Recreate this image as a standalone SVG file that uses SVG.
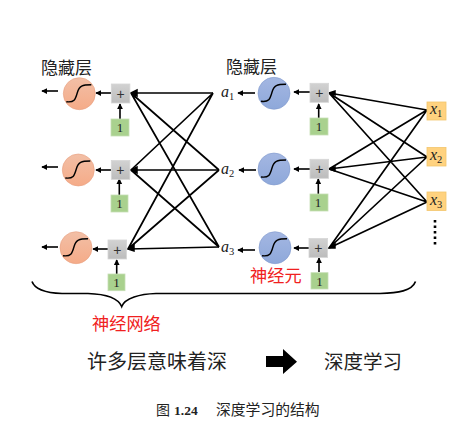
<svg xmlns="http://www.w3.org/2000/svg" width="476" height="433" viewBox="0 0 476 433">
<style>
.cjk{font-family:"Noto Sans CJK SC","Liberation Serif",serif}
.hd{font-size:17px;fill:#222}
.red{font-size:17.200px;fill:#f02020}
.m{font-family:"Liberation Serif",serif;font-style:italic;font-size:16px;fill:#222}
.s{font-family:"Liberation Serif",serif;font-size:10.500px;fill:#222}
.n{font-family:"Liberation Serif",serif;font-size:13px;fill:#222;text-anchor:middle}
.p{font-family:"Liberation Sans",sans-serif;font-size:14px;fill:#333;text-anchor:middle}
.l{stroke:#000;stroke-width:1.6;fill:none;marker-end:url(#a)}
.t{stroke:#000;stroke-width:1.7;fill:none}
.box{fill:url(#g);stroke:#d6d6d6;stroke-width:.8}
.gr{fill:#a9d18e;stroke:#c5dfb5;stroke-width:.8}
.ye{fill:#ffd27f;stroke:#f3c56d;stroke-width:.8}
.ci{stroke-width:.6}
</style>
<defs>
<marker id="a" viewBox="0 0 8 8" refX="7" refY="4" markerWidth="6" markerHeight="6" markerUnits="userSpaceOnUse" orient="auto"><path d="M0 0L8 4L0 8Z" fill="#000"/></marker>
<linearGradient id="r" x1="0" y1="0" x2="0" y2="1"><stop offset="0" stop-color="#f2bfa6"/><stop offset="1" stop-color="#f5ab88"/></linearGradient>
<linearGradient id="b" x1="0" y1="0" x2="0" y2="1"><stop offset="0" stop-color="#a4b7e2"/><stop offset="1" stop-color="#8ea8da"/></linearGradient>
<linearGradient id="g" x1="0" y1="0" x2="0" y2="1"><stop offset="0" stop-color="#d2d2d2"/><stop offset="1" stop-color="#bcbcbc"/></linearGradient>
<path id="sig" d="M-13 8C-5 9-4 6-2 -1C0 -8 3 -9 12 -9" fill="none" stroke="#000" stroke-width="1.400"/>
</defs>

<g id="connectors">
<path class="t" d="M213 93L131 93M219 170L131 170M219 247L128 249"/>
<path class="t" d="M213 93L131 170M213 93L128 249M219 170L131 93M219 170L128 249M219 247L131 93M219 247L131 170"/>
<path class="t" d="M427 110L329 93M427 110L329 169M427 110L329 248M427 157L329 93M427 157L329 169M427 157L329 248M427 202L329 93M427 202L329 169M427 202L329 248"/>
<path d="M131 93l6-3v6zM131 170l6-3v6zM128 249l6-4v6zM329 93l6-2v4zM329 169l6-2v4zM329 248l6-4v4z" fill="#000" stroke="#000" stroke-width="1.500"/>
<path class="l" d="M111 93H96"/><path class="l" d="M58 91H42"/><path class="l" d="M120 119V104"/>
<path class="l" d="M111 170H96"/><path class="l" d="M58 167H42"/><path class="l" d="M119.300 195V179"/>
<path class="l" d="M108 249H93"/><path class="l" d="M58 247H42"/><path class="l" d="M116.700 274V260"/>
<path class="l" d="M310 92H294"/><path class="l" d="M255 93H238"/><path class="l" d="M318.700 118V104"/>
<path class="l" d="M310 169H294"/><path class="l" d="M256 170H239"/><path class="l" d="M318.300 194V179"/>
<path class="l" d="M309 248H294"/><path class="l" d="M255 250H238"/><path class="l" d="M319 272V258"/>
</g>

<g id="n1"><circle class="ci" cx="79.300" cy="93.700" r="16" fill="url(#r)" stroke="#e8a080"/><use href="#sig" x="79.300" y="93.700"/></g>
<g id="n2"><circle class="ci" cx="78.300" cy="170" r="16" fill="url(#r)" stroke="#e8a080"/><use href="#sig" x="78.300" y="170"/></g>
<g id="n3"><circle class="ci" cx="76" cy="247.700" r="16" fill="url(#r)" stroke="#e8a080"/><use href="#sig" x="76" y="247.700"/></g>
<g id="n4"><circle class="ci" cx="274" cy="93.300" r="16" fill="url(#b)" stroke="#7f98cc"/><use href="#sig" x="274" y="93.300"/></g>
<g id="n5"><circle class="ci" cx="274" cy="169" r="16" fill="url(#b)" stroke="#7f98cc"/><use href="#sig" x="274" y="169"/></g>
<g id="n6"><circle class="ci" cx="275" cy="247.700" r="16" fill="url(#b)" stroke="#7f98cc"/><use href="#sig" x="275" y="247.700"/></g>

<g id="p1"><rect class="box" x="111.300" y="84" width="18.600" height="19"/><text class="p" x="120.600" y="98.500">+</text></g>
<g id="p2"><rect class="box" x="111.300" y="160.500" width="18.600" height="19"/><text class="p" x="120.400" y="175">+</text></g>
<g id="p3"><rect class="box" x="108" y="240" width="18.600" height="19"/><text class="p" x="117.300" y="254.500">+</text></g>
<g id="p4"><rect class="box" x="310" y="83.300" width="18.600" height="19"/><text class="p" x="319.300" y="97.800">+</text></g>
<g id="p5"><rect class="box" x="310" y="159.300" width="18.600" height="19"/><text class="p" x="319.300" y="173.800">+</text></g>
<g id="p6"><rect class="box" x="309" y="238.500" width="18.600" height="19"/><text class="p" x="318.300" y="253">+</text></g>

<g id="b1"><rect class="gr" x="111" y="119" width="18" height="17"/><text class="n" x="120" y="132">1</text></g>
<g id="b2"><rect class="gr" x="111" y="195" width="17" height="17"/><text class="n" x="119.500" y="208">1</text></g>
<g id="b3"><rect class="gr" x="108" y="274" width="17" height="16.700"/><text class="n" x="116.500" y="287">1</text></g>
<g id="b4"><rect class="gr" x="310" y="118" width="18" height="17"/><text class="n" x="319" y="131">1</text></g>
<g id="b5"><rect class="gr" x="310" y="194" width="18" height="17"/><text class="n" x="318" y="207">1</text></g>
<g id="b6"><rect class="gr" x="311" y="272.700" width="17" height="16.300"/><text class="n" x="319.500" y="286">1</text></g>

<g id="x1"><rect class="ye" x="427" y="102" width="19" height="18"/><text class="m" x="430" y="114">x</text><text class="s" x="437" y="117">1</text></g>
<g id="x2"><rect class="ye" x="427" y="147.500" width="19" height="18.500"/><text class="m" x="430" y="160">x</text><text class="s" x="437" y="163">2</text></g>
<g id="x3"><rect class="ye" x="427" y="192" width="19" height="18.500"/><text class="m" x="430" y="205">x</text><text class="s" x="437" y="208">3</text></g>
<g id="dots"><path d="M435 220V247" stroke="#000" stroke-width="2.600" stroke-dasharray="2.600 2.900" fill="none"/></g>

<g id="labels">
<text class="m" x="221" y="97">a</text><text class="s" x="229" y="100">1</text>
<text class="m" x="221" y="174">a</text><text class="s" x="229" y="177">2</text>
<text class="m" x="221" y="252">a</text><text class="s" x="229" y="255">3</text>
<text class="cjk hd" x="41" y="73.500">隐藏层</text>
<text class="cjk hd" x="226" y="73">隐藏层</text>
<text class="cjk red" x="250" y="282">神经元</text>
<text class="cjk red" x="92" y="330">神经网络</text>
<text class="cjk" x="87" y="369" font-size="20" fill="#222">许多层意味着深</text>
<text class="cjk" x="324" y="369" font-size="19.500" fill="#222">深度学习</text>
<text class="cjk" x="156" y="415" font-size="14" fill="#222">图</text>
<text x="174" y="415" font-family="Liberation Serif,serif" font-weight="bold" font-size="13.500" fill="#222">1.24</text>
<text class="cjk" x="216" y="415" font-size="14.800" fill="#222">深度学习的结构</text>
</g>

<g id="brace"><path d="M32 281.500C35 290 48 293 62 293.500H88C104 294 118 298 121.700 306.500C125 298 140 294 156 293.500H380C398 293 412 291 415.500 281.500" fill="none" stroke="#000" stroke-width="1.700"/></g>
<g id="bigarrow"><path d="M266 356H283V349L297 361.700L283 374V367H266Z" fill="#000"/></g>
</svg>
